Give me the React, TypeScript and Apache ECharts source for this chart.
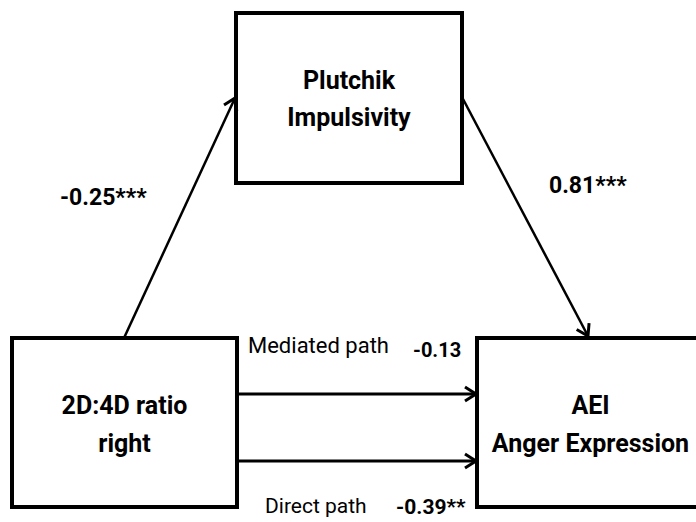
import React, { useEffect, useRef } from "react";
import * as echarts from "echarts";

// Content of the mediation diagram
const nodeNames: string[][] = [
  ["Plutchik", "Impulsivity"],
  ["2D:4D ratio", "right"],
  ["AEI", "Anger Expression"],
];
const pathCoefficients: string[] = ["-0.25***", "0.81***", "-0.13", "-0.39**"];
const pathNames: string[] = ["Mediated path", "Direct path"];

// Layout (pixels)
const boxes = [
  { x0: 236, y0: 13, x1: 462, y1: 183, lineY: [80, 117] },
  { x0: 12, y0: 338, x1: 237, y1: 507, lineY: [405, 443] },
  { x0: 477, y0: 338, x1: 704, y1: 507, lineY: [405, 443] },
];
const arrows = [
  { from: [124, 338], to: [235, 98], w: 2.5 },
  { from: [463, 99], to: [588, 336], w: 2.5 },
  { from: [237, 394], to: [476, 394], w: 3 },
  { from: [237, 461], to: [476, 461], w: 3 },
];
const coefPos = [
  { x: 60, y: 197, size: 23 },
  { x: 549, y: 185, size: 23 },
  { x: 413, y: 350, size: 20 },
  { x: 396, y: 507, size: 21 },
];
const pathNamePos = [
  { x: 248, y: 345, size: 22 },
  { x: 265, y: 506, size: 21 },
];

const FONT = "Roboto, 'Liberation Sans', Arial, sans-serif";

function arrowHead(from: number[], to: number[], len = 11, half = 7) {
  const dx = to[0] - from[0];
  const dy = to[1] - from[1];
  const d = Math.hypot(dx, dy);
  const ux = dx / d, uy = dy / d;
  const px = -uy, py = ux;
  const bx = to[0] - ux * len, by = to[1] - uy * len;
  return [
    [bx + px * half, by + py * half],
    [to[0], to[1]],
    [bx - px * half, by - py * half],
  ];
}

export default function App() {
  const ref = useRef<HTMLDivElement>(null);
  useEffect(() => {
    if (!ref.current) return;
    const chart = echarts.init(ref.current, undefined, { renderer: "svg" });
    const elements: any[] = [];

    boxes.forEach((b, i) => {
      elements.push({
        type: "rect",
        shape: { x: b.x0, y: b.y0, width: b.x1 - b.x0, height: b.y1 - b.y0 },
        style: { fill: "#ffffff", stroke: "#000000", lineWidth: 4 },
        z: 1,
      });
      nodeNames[i].forEach((t, j) => {
        elements.push({
          type: "text",
          z: 3,
          style: {
            text: t,
            x: (b.x0 + b.x1) / 2,
            y: b.lineY[j],
            align: "center",
            verticalAlign: "middle",
            fontFamily: FONT,
            fontWeight: "bold",
            fontSize: 25,
            fill: "#000000",
          },
        });
      });
    });

    arrows.forEach((a) => {
      elements.push({
        type: "line",
        z: 2,
        shape: { x1: a.from[0], y1: a.from[1], x2: a.to[0], y2: a.to[1] },
        style: { stroke: "#000000", lineWidth: a.w },
      });
      elements.push({
        type: "polyline",
        z: 2,
        shape: { points: arrowHead(a.from, a.to) },
        style: { stroke: "#000000", lineWidth: 3, fill: "none" },
      });
    });

    pathCoefficients.forEach((t, i) => {
      const p = coefPos[i];
      elements.push({
        type: "text",
        z: 3,
        style: {
          text: t,
          x: p.x,
          y: p.y,
          align: "left",
          verticalAlign: "middle",
          fontFamily: FONT,
          fontWeight: "bold",
          fontSize: p.size,
          fill: "#000000",
        },
      });
    });

    pathNames.forEach((t, i) => {
      const p = pathNamePos[i];
      elements.push({
        type: "text",
        z: 3,
        style: {
          text: t,
          x: p.x,
          y: p.y,
          align: "left",
          verticalAlign: "middle",
          fontFamily: FONT,
          fontWeight: "normal",
          fontSize: p.size,
          fill: "#000000",
        },
      });
    });

    chart.setOption({
      animation: false,
      backgroundColor: "#ffffff",
      graphic: { elements },
    });
    return () => chart.dispose();
  }, []);
  return (
    <div
      ref={ref}
      style={{ width: 696, height: 522, position: "absolute", left: 0, top: 0 }}
    />
  );
}
